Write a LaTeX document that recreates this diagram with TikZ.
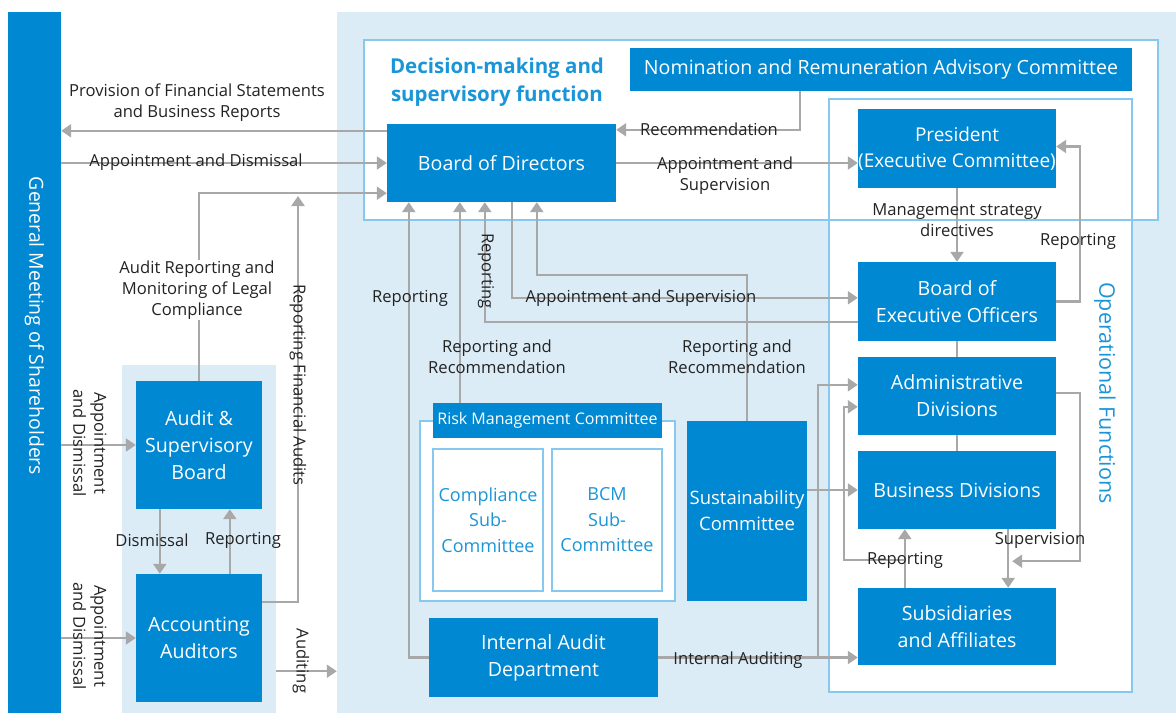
\documentclass[tikz,border=0pt]{standalone}
\usepackage{fontspec}
\setmainfont{Open Sans}
\usetikzlibrary{arrows.meta}
\usetikzlibrary{calc}
\definecolor{unitblue}{RGB}{0,136,210}
\definecolor{paleblue}{RGB}{219,236,247}
\definecolor{rimblue}{RGB}{135,200,238}
\definecolor{headblue}{RGB}{26,150,216}
\definecolor{linkgray}{RGB}{168,168,168}
\definecolor{labelink}{RGB}{35,35,35}
\tikzset{
  unit box/.style={
    rectangle,
    fill=unitblue,
    text=white,
    align=center,
    inner sep=0pt,
    font=\fontsize{19.6}{27}\selectfont,
  }
}
\tikzset{
  sub box/.style={
    rectangle,
    draw=rimblue,
    line width=1.5pt,
    fill=white,
    text=headblue,
    align=center,
    inner sep=0pt,
    minimum width=110pt,
    minimum height=142pt,
    font=\fontsize{18}{25.5}\selectfont,
  }
}
\tikzset{
  panel/.style={rectangle, fill=white, inner sep=0pt},
  panel rim/.style={draw=rimblue, line width=1.5pt},
  link/.style={draw=linkgray, line width=2.2pt},
  arrow link/.style={link, -{Triangle[width=13pt,length=10pt]}},
  link label/.style={
    text=labelink,
    align=center,
    inner sep=1pt,
    font=\fontsize{16.6}{21}\selectfont,
  },
}

\begin{document}
\begin{tikzpicture}[x=1pt, y=-1pt]
  \useasboundingbox (0,0) rectangle (1176,713);

  % backgrounds
  \node[fill=paleblue, inner sep=0pt, minimum width=839pt, minimum height=701pt]
    (mainbg) at (756.5,362.5) {};
  \node[fill=paleblue, inner sep=0pt, minimum width=154pt, minimum height=348pt]
    (audcol) at (199,539) {};
  \node[fill=unitblue, inner sep=0pt, minimum width=53pt, minimum height=701pt]
    (gm) at (34.5,362.5) {};
  \node[rotate=-90, text=white, font=\fontsize{19.4}{24}\selectfont]
    (gmtext) at (34.5,326) {General Meeting of Shareholders};

  % panels
  \node[panel, minimum width=794pt, minimum height=180pt] (dms) at (761,130) {};
  \node[panel, minimum width=303pt, minimum height=593pt] (ops) at (980.5,395.5) {};
  \foreach \p in {dms,ops}
    \draw[panel rim] (\p.south west) rectangle (\p.north east);
  \node[panel, draw=rimblue, line width=1.5pt, minimum width=255pt, minimum height=180pt]
    (rmc) at (547.5,511) {};

  \node[text=headblue, align=center, font=\bfseries\fontsize{20.5}{28}\selectfont]
    (dmstitle) at (497,82) {Decision-making and\\supervisory function};
  \node[rotate=-90, text=headblue, font=\fontsize{21.5}{24}\selectfont]
    (opstitle) at (1105,393) {Operational Functions};

  % boxes
  \node[unit box, minimum width=502pt, minimum height=43pt]
    (nom) at (881,69.5) {Nomination and Remuneration Advisory Committee};
  \node[unit box, minimum width=229pt, minimum height=78pt]
    (bod) at (501.5,163) {Board of Directors};
  \node[unit box, minimum width=198pt, minimum height=79pt, font=\fontsize{19}{26}\selectfont]
    (pres) at (957,148.5) {President\\(Executive Committee)};
  \node[unit box, minimum width=198pt, minimum height=79pt]
    (beo) at (957,301.5) {Board of\\Executive Officers};
  \node[unit box, minimum width=198pt, minimum height=78pt]
    (adm) at (957,396) {Administrative\\Divisions};
  \node[unit box, minimum width=198pt, minimum height=78pt]
    (bus) at (957,490) {Business Divisions};
  \node[unit box, minimum width=198pt, minimum height=77pt]
    (sub) at (957,626.5) {Subsidiaries\\and Affiliates};
  \node[unit box, minimum width=126pt, minimum height=128pt]
    (asb) at (199,445) {Audit \&\\Supervisory\\Board};
  \node[unit box, minimum width=126pt, minimum height=128pt]
    (acc) at (199,638) {Accounting\\Auditors};
  \node[unit box, minimum width=229pt, minimum height=35pt, font=\fontsize{16}{20}\selectfont]
    (rmct) at (547.5,420.5) {Risk Management Committee};
  \node[sub box] (comp) at (488,520) {Compliance\\Sub-\\Committee};
  \node[sub box] (bcm) at (607,520) {BCM\\Sub-\\Committee};
  \node[unit box, minimum width=120pt, minimum height=180pt, font=\fontsize{18.5}{26}\selectfont]
    (sus) at (747,511) {Sustainability\\Committee};
  \node[unit box, minimum width=229pt, minimum height=79pt]
    (iad) at (543.5,657.5) {Internal Audit\\Department};

  % connectors
  \coordinate (provA) at ($(bod.north west)+(0,7)$);
  \draw[arrow link] (provA) -- (provA -| gm.east);
  \draw[arrow link] (gm.east |- bod.west) -- (bod.west);
  \coordinate (bodA) at ($(bod.south west)+(0,-9)$);
  \draw[arrow link] (asb.north) |- (bodA);
  \coordinate (finTop) at (298,196);
  \draw[arrow link] ($(acc.north east)+(0,28)$) -| (finTop);
  \draw[arrow link] (gm.east |- asb.west) -- (asb.west);
  \draw[arrow link] (gm.east |- acc.west) -- (acc.west);
  \draw[arrow link] ($(asb.south west)+(24,0)$) -- ($(acc.north west)+(24,0)$);
  \draw[arrow link] ($(acc.north west)+(94,0)$) -- ($(asb.south west)+(94,0)$);
  \coordinate (audA) at ($(acc.south)+(0,-31)$);
  \draw[arrow link] (audA -| audcol.east) -- (audA -| mainbg.west);

  \draw[arrow link] ($(nom.south west)+(170,0)$) |- ($(bod.north east)+(0,6)$);
  \draw[arrow link] (bod.east) -- (bod.east -| pres.west);
  \draw[arrow link] (pres.south) -- (beo.north);
  \draw[arrow link] (beo.east) -- ++(24,0) |- ($(pres.east)+(0,-2)$);
  \draw[arrow link] ($(bod.south west)+(125,0)$) |- ($(beo.north west)+(0,36)$);
  \draw[arrow link] ($(beo.north west)+(0,60)$) -| ($(bod.south west)+(98,0)$);
  \draw[arrow link] (sus.north) -- ++(0,-146) -| ($(bod.south west)+(150,0)$);
  \coordinate (rmcA) at ($(rmct.north west)+(27,0)$);
  \draw[arrow link] (rmcA) -- (rmcA |- bod.south);
  \draw[arrow link] (iad.west) -| ($(bod.south west)+(22,0)$);
  \draw[arrow link] (iad.east) -- (iad.east -| sub.west);
  \draw[arrow link] ($(iad.east)+(160,0)$) |- ($(adm.north west)+(0,28)$);
  \draw[arrow link] (sus.east |- bus.west) -- (bus.west);
  \draw[arrow link] ($(sub.north west)+(47,0)$) -- ($(bus.south west)+(47,0)$);
  \coordinate (subRep) at ($(sub.north west)+(47,-28)$);
  \draw[arrow link] (subRep) -- ++(-61,0) |- ($(adm.north west)+(0,50)$);
  \draw[arrow link] ($(bus.south east)+(-48,0)$) -- ($(sub.north east)+(-48,0)$);
  \draw[arrow link] ($(adm.north east)+(0,36)$) -- ++(24,0) |- ($(bus.south east)+(-44,32)$);
  \draw[link] (beo.south) -- (adm.north);
  \draw[link] (adm.south) -- (bus.north);

  % labels
  \node[link label] (provlbl) at (197,103) {Provision of Financial Statements\\and Business Reports};
  \node[link label] (gmbodlbl) at (196,162) {Appointment and Dismissal};
  \node[link label, fill=white] (auditlbl) at (197,290) {Audit Reporting and\\Monitoring of Legal\\Compliance};
  \node[link label, rotate=-90] (finlbl) at (298,385) {Reporting Financial Audits};
  \node[link label, rotate=-90] (asbapplbl) at (90,443) {Appointment\\and Dismissal};
  \node[link label, rotate=-90] (accapplbl) at (90,636) {Appointment\\and Dismissal};
  \node[link label] (dislbl) at (152,540) {Dismissal};
  \node[link label] (accreplbl) at (243,540) {Reporting};
  \node[link label, rotate=-90] (audlbl) at (301,661) {Auditing};
  \node[link label] (reclbl) at (709,129) {Recommendation};
  \node[link label] (bodpreslbl) at (725,176) {Appointment and\\Supervision};
  \node[link label] (msdlbl) at (957,220) {Management strategy\\directives};
  \node[link label] (presreplbl) at (1078,241) {Reporting};
  \node[link label] (bodbeolbl) at (641,298) {Appointment and Supervision};
  \node[link label, rotate=-90] (beoreplbl) at (486,271) {Reporting};
  \node[link label] (iadreplbl) at (410,298) {Reporting};
  \node[link label] (rmcreclbl) at (497,357) {Reporting and\\Recommendation};
  \node[link label] (susreclbl) at (737,357) {Reporting and\\Recommendation};
  \node[link label] (iaudlbl) at (738,660) {Internal Auditing};
  \node[link label] (subreplbl) at (905,560) {Reporting};
  \node[link label] (suplbl) at (1040,540) {Supervision};
\end{tikzpicture}
\end{document}
